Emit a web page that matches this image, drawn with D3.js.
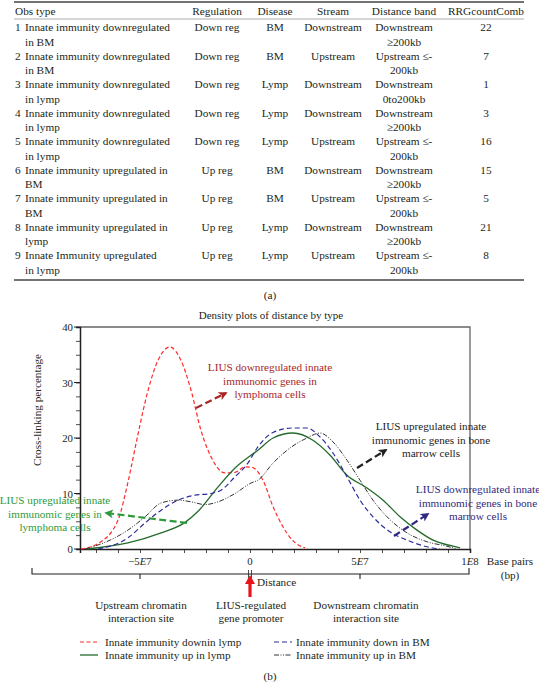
<!DOCTYPE html>
<html><head><meta charset="utf-8">
<script src="https://cdn.jsdelivr.net/npm/d3@7"></script>
<style>
body{margin:0;background:#fff;}
svg{display:block;font-family:"Liberation Serif","DejaVu Serif",serif;}
</style></head><body>
<svg id="c" width="539" height="682"></svg>
<script>
// ---------- Table data ----------
const tableHeaders = ["Obs type","Regulation","Disease","Stream","Distance band","RRGcountComb"];
const obsType = [
 "Innate immunity downregulated\nin BM","Innate immunity downregulated\nin BM",
 "Innate immunity downregulated\nin lymp","Innate immunity downregulated\nin lymp",
 "Innate immunity downregulated\nin lymp","Innate immunity upregulated in\nBM",
 "Innate immunity upregulated in\nBM","Innate immunity upregulated in\nlymp",
 "Innate Immunity upregulated\nin lymp"];
const regulation = ["Down reg","Down reg","Down reg","Down reg","Down reg","Up reg","Up reg","Up reg","Up reg"];
const disease = ["BM","BM","Lymp","Lymp","Lymp","BM","BM","Lymp","Lymp"];
const stream = ["Downstream","Upstream","Downstream","Downstream","Upstream","Downstream","Upstream","Downstream","Upstream"];
const distanceBand = ["Downstream\n≥200kb","Upstream ≤-\n200kb","Downstream\n0to200kb","Downstream\n≥200kb",
 "Upstream ≤-\n200kb","Downstream\n≥200kb","Upstream ≤-\n200kb","Downstream\n≥200kb","Upstream ≤-\n200kb"];
const rrgCount = [22,7,1,3,16,15,5,21,8];

// ---------- Chart data (distance in bp, density in %) ----------
const seriesNames = ["Innate immunity downin lymp","Innate immunity up in lymp","Innate immunity down in BM","Innate immunity up in BM"];
const downLympX = [-7.68e7,-6.9e7,-6.0e7,-5.55e7,-5.1e7,-4.64e7,-4.18e7,-3.64e7,-3.14e7,-2.68e7,-2.23e7,-1.77e7,-1.14e7,-0.68e7,-0.23e7,0.1e7,0.59e7,1.05e7,1.5e7,1.95e7,2.5e7];
const downLympY = [0,1,5.2,12,20.5,28.5,34,36.4,34,28.6,21.4,16.6,13.7,13.8,14.8,14.7,12.4,7.6,4,1.5,0.2];
const upLympX = [-7.4e7,-5.55e7,-4.04e7,-2.95e7,-2.36e7,-1.45e7,-0.68e7,0.36e7,1.05e7,1.95e7,2.86e7,3.64e7,4.41e7,5.32e7,6.05e7,6.82e7,7.59e7,8.32e7,9.23e7,9.55e7];
const upLympY = [0,1.1,2.9,4.8,6.8,11.2,14.6,17.8,20,20.9,19.6,16.9,13.3,11,8.8,5.8,3.4,1.6,0.5,0.2];
const downBMX = [-6.9e7,-5.55e7,-4.77e7,-4.04e7,-3.27e7,-2.5e7,-1.77e7,-1.32e7,-0.68e7,-0.09e7,0.36e7,1.05e7,1.95e7,2.59e7,3.18e7,3.77e7,4.41e7,5.0e7,5.59e7,6.36e7,7.14e7,8.05e7,8.64e7];
const downBMY = [0,2,4.7,7,8.8,9.7,10,10.6,13,15.5,18.4,21,21.8,21.8,20.2,17.3,13,8.8,5.8,3.1,1.6,0.4,0];
const upBMX = [-7.5e7,-6.36e7,-5.55e7,-4.77e7,-4.04e7,-3.27e7,-2.68e7,-2.05e7,-1.45e7,-0.68e7,0.05e7,0.36e7,1.05e7,1.82e7,2.59e7,3.18e7,3.77e7,4.41e7,5.0e7,5.59e7,6.23e7,7.14e7,8.05e7,8.95e7,9.4e7];
const upBMY = [0,1.6,3.4,5.8,8.3,8.8,8.5,8,8.5,10,11.9,12.4,15.5,18.2,20,20.9,19.3,16,12.4,8.8,5.8,2.9,1.3,0.5,0];
const xTickValues = [-5e7,0,5e7,1e8];
const xTickLabels = ["−5","0","5","1"];
const xTickExp = ["E7","","E7","E8"];
const yTickValues = [0,10,20,30,40];

const svg = d3.select("#c");
const ink = "#231f20";

// ---------- Table ----------
const tbl = svg.append("g").attr("font-size","11.3px").attr("fill",ink);
tbl.append("line").attr("x1",14).attr("x2",524).attr("y1",2).attr("y2",2).attr("stroke","#444").attr("stroke-width",1.6);
tbl.append("line").attr("x1",14).attr("x2",524).attr("y1",19).attr("y2",19).attr("stroke","#777").attr("stroke-width",0.6);
tbl.append("line").attr("x1",14).attr("x2",524).attr("y1",280).attr("y2",280).attr("stroke","#444").attr("stroke-width",1.6);
const colX = [15,217,275,333,404,486];
const colAnchor = ["start","middle","middle","middle","middle","middle"];
tableHeaders.forEach((h,i)=>{
  tbl.append("text").attr("x",colX[i]).attr("y",15).attr("text-anchor",colAnchor[i]).text(h);
});
const rowY = i => 31 + 28.5*i;
function multi(g,x,y,str,anchor){
  str.split("\n").forEach((ln,k)=>{
    g.append("text").attr("x",x).attr("y",y+14.5*k).attr("text-anchor",anchor).text(ln);
  });
}
obsType.forEach((s,i)=>{
  const y = rowY(i);
  tbl.append("text").attr("x",15).attr("y",y).text(i+1);
  multi(tbl,25,y,s,"start");
  multi(tbl,colX[1],y,regulation[i],"middle");
  multi(tbl,colX[2],y,disease[i],"middle");
  multi(tbl,colX[3],y,stream[i],"middle");
  multi(tbl,colX[4],y,distanceBand[i],"middle");
  multi(tbl,colX[5],y,String(rrgCount[i]),"middle");
});
svg.append("text").attr("x",270).attr("y",299).attr("text-anchor","middle").attr("font-size","11.3px").attr("fill",ink).text("(a)");

// ---------- Chart ----------
const x = d3.scaleLinear().domain([-7.727e7,1e8]).range([80,470]);
const y = d3.scaleLinear().domain([0,40]).range([549,327]);
const ch = svg.append("g").attr("font-size","11.2px").attr("fill",ink);

ch.append("text").attr("x",271).attr("y",319).attr("text-anchor","middle").attr("font-size","11px").text("Density plots of distance by type");

// frame top / right
ch.append("path").attr("d",`M${x.range()[0]},${y(40)}H${x(1e8)}V${y(0)}`).attr("fill","none").attr("stroke","#666").attr("stroke-width",1.3);

// x axis
const xAxis = d3.axisBottom(x).tickValues(d3.range(-7e7,1.01e8,1e7)).tickSize(4).tickFormat("");
const gx = ch.append("g").attr("transform",`translate(0,${y(0)})`).call(xAxis);
gx.select(".domain").attr("stroke",ink).attr("stroke-width",1.5);
gx.selectAll(".tick line").attr("stroke",ink).attr("stroke-width",0.8);
xTickValues.forEach((v,i)=>{
  const t = ch.append("text").attr("x",x(v)).attr("y",565).attr("text-anchor","middle").attr("font-size","10.8px");
  t.append("tspan").text(xTickLabels[i]);
  if(xTickExp[i]){
    t.append("tspan").attr("font-style","italic").text(xTickExp[i][0]);
    t.append("tspan").text(xTickExp[i].slice(1));
  }
});
// y axis
const yAxis = d3.axisLeft(y).tickValues(d3.range(0,40.01,2.5)).tickSize(4).tickFormat("");
const gy = ch.append("g").attr("transform",`translate(${x.range()[0]},0)`).call(yAxis);
gy.select(".domain").attr("stroke",ink).attr("stroke-width",1.5);
gy.selectAll(".tick line").attr("stroke",ink).attr("stroke-width",0.8);
yTickValues.forEach(v=>{
  ch.append("line").attr("x1",74).attr("x2",80).attr("y1",y(v)).attr("y2",y(v)).attr("stroke",ink).attr("stroke-width",1);
  ch.append("text").attr("x",73).attr("y",y(v)+4).attr("text-anchor","end").attr("font-size","10.8px").text(v);
});
ch.append("text").attr("transform","translate(41,410) rotate(-90)").attr("text-anchor","middle").text("Cross-linking percentage");

// curves
const line = d3.line().x(d=>x(d[0])).y(d=>y(d[1])).curve(d3.curveMonotoneX);
const series = [
  {xs:downLympX, ys:downLympY, color:"#ff2a2a", dash:"4,2.5", w:1.2},
  {xs:upLympX, ys:upLympY, color:"#236b2a", dash:null, w:1.3},
  {xs:downBMX, ys:downBMY, color:"#2b2b9e", dash:"5,3", w:1.2},
  {xs:upBMX, ys:upBMY, color:"#333", dash:"5,1.5,1,1.5,1,1.5", w:1}
];
series.forEach(s=>{
  const p = ch.append("path").datum(s.xs.map((v,i)=>[v,s.ys[i]])).attr("d",line)
    .attr("fill","none").attr("stroke",s.color).attr("stroke-width",s.w);
  if(s.dash) p.attr("stroke-dasharray",s.dash);
});

// annotations
const defs = svg.append("defs");
function marker(id,color){
  defs.append("marker").attr("id",id).attr("viewBox","0 0 10 10").attr("refX",8).attr("refY",5)
   .attr("markerWidth",4).attr("markerHeight",4).attr("orient","auto-start-reverse")
   .append("path").attr("d","M0,0L10,5L0,10L2.5,5Z").attr("fill",color);
}
const annos = [
  {color:"#a82628", lines:["LIUS downregulated innate","immunomic genes in","lymphoma cells"], cx:270, cy:367, a:[196,408,226,393]},
  {color:"#222", lines:["LIUS upregulated innate","immunomic genes in bone","marrow cells"], cx:431, cy:426, a:[357,468,386,450]},
  {color:"#2f2a80", lines:["LIUS downregulated innate","immunomic genes in bone","marrow cells"], cx:478, cy:489, a:[394,536,428,514]},
  {color:"#2e9a3c", lines:["LIUS upregulated innate","immunomic genes in","lymphoma cells"], cx:55, cy:500, a:[187,523,106,513]}
];
annos.forEach((an,i)=>{
  marker("m"+i,an.color);
  ch.append("line").attr("x1",an.a[0]).attr("y1",an.a[1]).attr("x2",an.a[2]).attr("y2",an.a[3])
    .attr("stroke",an.color).attr("stroke-width",2.2).attr("stroke-dasharray","7,3.5")
    .attr("marker-end",`url(#m${i})`);
  an.lines.forEach((ln,k)=>{
    ch.append("text").attr("x",an.cx).attr("y",an.cy+4+13.5*k).attr("text-anchor","middle")
      .attr("fill",an.color).text(ln);
  });
});

// base pairs label
ch.append("text").attr("x",510).attr("y",565).attr("text-anchor","middle").text("Base pairs");
ch.append("text").attr("x",510).attr("y",579).attr("text-anchor","middle").text("(bp)");

// distance bracket
ch.append("path").attr("d","M32,568V574H469V568").attr("fill","none").attr("stroke",ink).attr("stroke-width",1.1);
[x(-5e7),x(5e7)].forEach(px=>{
  ch.append("line").attr("x1",px).attr("x2",px).attr("y1",574).attr("y2",579).attr("stroke",ink).attr("stroke-width",1.1);
});
ch.append("path").attr("d",`M${x(0)-1.5},570V578M${x(0)+1.5},570V578`).attr("stroke",ink).attr("stroke-width",0.8);
ch.append("path").attr("d",`M${x(0)},575L${x(0)+5},584H${x(0)+1.6}V597H${x(0)-1.6}V584H${x(0)-5}Z`).attr("fill","#e8141c");
ch.append("text").attr("x",x(0)+7).attr("y",586).text("Distance");

const lab = [["Upstream chromatin","interaction site",141],["LIUS-regulated","gene promoter",251],["Downstream chromatin","interaction site",366]];
lab.forEach(l=>{
  ch.append("text").attr("x",l[2]).attr("y",609).attr("text-anchor","middle").text(l[0]);
  ch.append("text").attr("x",l[2]).attr("y",622).attr("text-anchor","middle").text(l[1]);
});

// legend
const legPos = [[80,642],[80,655],[274,642],[274,655]];
series.forEach((s,i)=>{
  const [lx,ly] = legPos[i];
  const l = ch.append("line").attr("x1",lx).attr("x2",lx+18).attr("y1",ly).attr("y2",ly)
    .attr("stroke",s.color).attr("stroke-width",s.w);
  if(s.dash) l.attr("stroke-dasharray",s.dash);
  ch.append("text").attr("x",lx+(i<2?25:22)).attr("y",ly+4).text(seriesNames[i]);
});
ch.append("text").attr("x",270).attr("y",680).attr("text-anchor","middle").text("(b)");
</script>
</body></html>
